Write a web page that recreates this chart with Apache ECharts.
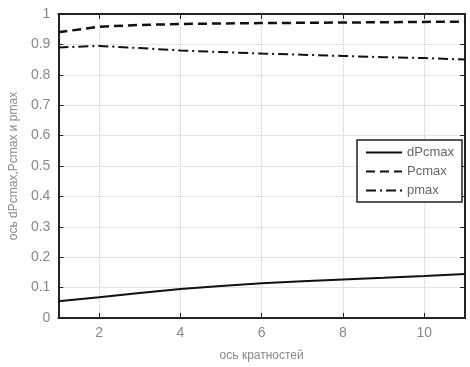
<!DOCTYPE html>
<html><head><meta charset="utf-8">
<script src="https://cdn.jsdelivr.net/npm/echarts@6/dist/echarts.min.js"></script>
<style>html,body{margin:0;padding:0;background:#fff}#c{width:470px;height:367px}</style>
</head><body><div id="c"></div>
<script>
const xVals = [1, 2, 3, 4, 5, 6, 7, 8, 9, 10, 11];
const dPcmax = [0.055, 0.068, 0.082, 0.095, 0.105, 0.114, 0.121, 0.127, 0.132, 0.138, 0.145];
const Pcmax = [0.940, 0.958, 0.964, 0.967, 0.969, 0.970, 0.971, 0.972, 0.973, 0.974, 0.975];
const pmax = [0.890, 0.895, 0.888, 0.880, 0.875, 0.870, 0.866, 0.862, 0.858, 0.855, 0.850];
const xTicks = [2, 4, 6, 8, 10];
const seriesNames = ['dPcmax', 'Pcmax', 'pmax'];
const xTitle = 'ось кратностей';
const yTitle = 'ось dPcmax,Pcmax и pmax';

const pair = a => xVals.map((x, i) => [x, a[i]]);
const chart = echarts.init(document.getElementById('c'));
const font = 'Liberation Sans, Arial, sans-serif';
const aLine = {show: true, onZero: false, lineStyle: {color: '#222', width: 2}};
const aTick = {show: true, inside: true, length: 5, lineStyle: {color: '#222'}};
const lbl = {color: '#888', fontSize: 14, fontFamily: font};
chart.setOption({
  backgroundColor: '#fff',
  animation: false,
  grid: {left: 55, right: 5, top: 14, bottom: 40},
  xAxis: [
    {type: 'value', min: 1, max: 11,
      name: xTitle, nameLocation: 'middle', nameGap: 32,
      nameTextStyle: {color: '#888', fontSize: 12, fontFamily: font},
      axisLine: aLine,
      axisTick: Object.assign({customValues: xTicks}, aTick),
      axisLabel: Object.assign({customValues: xTicks}, lbl),
      splitLine: {show: true, lineStyle: {type: 'dotted', color: '#ccc'}}
    },
    {type: 'value', min: 1, max: 11, position: 'top',
      axisLine: aLine, axisTick: Object.assign({customValues: xTicks}, aTick),
      axisLabel: {show: false}, splitLine: {show: false}}
  ],
  yAxis: [
    {type: 'value', min: 0, max: 1, interval: 0.1,
      name: yTitle, nameLocation: 'middle', nameGap: 38,
      nameTextStyle: {color: '#888', fontSize: 12, fontFamily: font},
      axisLine: aLine, axisTick: aTick,
      splitLine: {show: true, lineStyle: {type: 'dotted', color: '#ccc'}},
      axisLabel: Object.assign({formatter: v => (Math.round(v*10)/10).toString()}, lbl)
    },
    {type: 'value', min: 0, max: 1, interval: 0.1, position: 'right',
      axisLine: aLine, axisTick: aTick, axisLabel: {show: false}, splitLine: {show: false}}
  ],
  legend: {
    orient: 'vertical', left: 357, top: 140, padding: [6, 8, 5, 8],
    backgroundColor: '#fff', borderColor: '#222', borderWidth: 1.5, borderRadius: 0,
    itemWidth: 36, itemHeight: 10, itemGap: 6,
    itemStyle: {color: 'transparent', borderWidth: 0, opacity: 0},
    textStyle: {color: '#666', fontSize: 13, fontFamily: font},
    data: seriesNames
  },
  series: [
    {name: seriesNames[0], type: 'line', data: pair(dPcmax), showSymbol: false, symbol: 'none',
      lineStyle: {color: '#111', width: 2, type: 'solid'}, itemStyle: {color: '#111'}},
    {name: seriesNames[1], type: 'line', data: pair(Pcmax), showSymbol: false, symbol: 'none',
      lineStyle: {color: '#111', width: 2.5, type: [9, 5]}, itemStyle: {color: '#111'}},
    {name: seriesNames[2], type: 'line', data: pair(pmax), showSymbol: false, symbol: 'none',
      lineStyle: {color: '#111', width: 2, type: [10, 4, 2, 4]}, itemStyle: {color: '#111'}}
  ]
});
</script></body></html>
